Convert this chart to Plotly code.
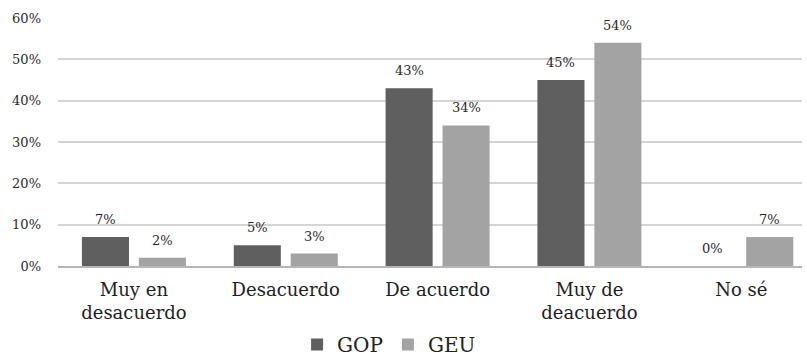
import plotly.graph_objects as go

categories = ["Muy en<br>desacuerdo", "Desacuerdo", "De acuerdo", "Muy de<br>deacuerdo", "No sé"]
gop = [7, 5, 43, 45, 0]
geu = [2, 3, 34, 54, 7]
y_ticks = [0, 10, 20, 30, 40, 50, 60]

GOP_COLOR = "#5f5f5f"
GEU_COLOR = "#a3a3a3"
FONT = "DejaVu Serif"

pos = list(range(len(categories)))
shift = 0.1875
bar_w = 0.31
x_gop = [p - shift for p in pos]
x_geu = [p + shift for p in pos]

fig = go.Figure()
fig.add_trace(go.Bar(x=x_gop, y=gop, width=bar_w, name="GOP",
                     marker=dict(color=GOP_COLOR, line=dict(width=0))))
fig.add_trace(go.Bar(x=x_geu, y=geu, width=bar_w, name="GEU",
                     marker=dict(color=GEU_COLOR, line=dict(width=0))))

# value labels above each bar
for xs, vals in ((x_gop, gop), (x_geu, geu)):
    for x, v in zip(xs, vals):
        fig.add_annotation(x=x, y=v, text=f"{v}%", showarrow=False,
                           yanchor="bottom", yshift=8,
                           font=dict(family=FONT, size=13, color="#2a2a2a"))

fig.update_layout(
    width=807, height=357,
    margin=dict(l=58, r=5, t=18, b=91, autoexpand=False),
    paper_bgcolor="white", plot_bgcolor="white",
    font=dict(family=FONT, color="#2a2a2a"),
    showlegend=True,
    legend=dict(orientation="h", x=0.445, xanchor="center",
                yref="container", y=0.035, yanchor="middle",
                font=dict(family=FONT, size=20, color="#222222"),
                itemwidth=30, traceorder="normal"),
)
fig.update_xaxes(
    range=[-0.5, 4.4], tickmode="array", tickvals=pos, ticktext=categories,
    tickfont=dict(family=FONT, size=18, color="#1e1e1e"),
    showgrid=False, zeroline=False, showline=True, linecolor="#b5b5b5", linewidth=2,
    ticks="", ticklabelstandoff=6, automargin=False,
)
fig.update_yaxes(
    range=[0, 60], tickmode="array", tickvals=y_ticks,
    ticktext=[f"{t}%" for t in y_ticks],
    tickfont=dict(family=FONT, size=13, color="#2a2a2a"),
    showgrid=True, gridcolor="#d4d4d4", gridwidth=2,
    zeroline=False, showline=False, ticks="", ticklabelstandoff=16, automargin=False,
)

fig.write_html("out.html")
